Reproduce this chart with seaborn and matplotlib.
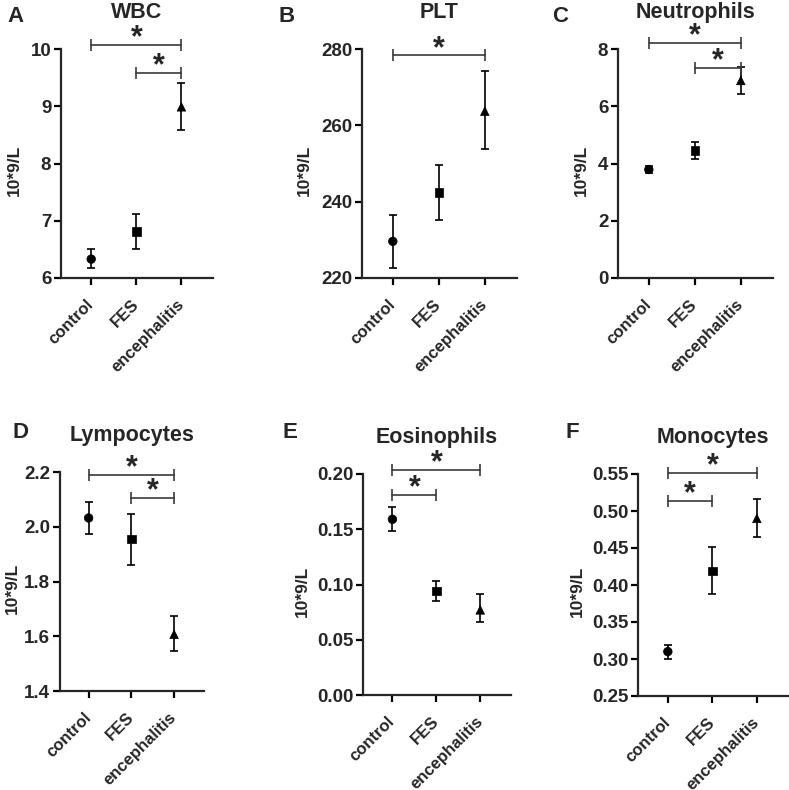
import numpy as np
import pandas as pd
import matplotlib
matplotlib.use("Agg")
import matplotlib.pyplot as plt
import seaborn as sns

groups = ["control", "FES", "encephalitis"]

# mean values, plus the ends of each error bar
wbc_mean = [6.33, 6.81, 8.99]
wbc_low = [6.17, 6.51, 8.58]
wbc_high = [6.50, 7.12, 9.41]

plt_mean = [229.6, 242.4, 263.7]
plt_low = [222.6, 235.2, 253.7]
plt_high = [236.4, 249.6, 274.3]

neu_mean = [3.79, 4.45, 6.90]
neu_low = [3.67, 4.16, 6.44]
neu_high = [3.91, 4.74, 7.36]

lym_mean = [2.032, 1.955, 1.607]
lym_low = [1.973, 1.862, 1.545]
lym_high = [2.090, 2.047, 1.673]

eos_mean = [0.159, 0.094, 0.077]
eos_low = [0.148, 0.085, 0.066]
eos_high = [0.170, 0.103, 0.091]

mon_mean = [0.310, 0.419, 0.490]
mon_low = [0.300, 0.388, 0.465]
mon_high = [0.319, 0.451, 0.516]

# significance brackets: (from group, to group, height)
wbc_sig = [("control", "encephalitis", 10.07), ("FES", "encephalitis", 9.58)]
plt_sig = [("control", "encephalitis", 278.3)]
neu_sig = [("control", "encephalitis", 8.21), ("FES", "encephalitis", 7.34)]
lym_sig = [("control", "encephalitis", 2.188), ("FES", "encephalitis", 2.105)]
eos_sig = [("control", "encephalitis", 0.2036), ("control", "FES", 0.181)]
mon_sig = [("control", "encephalitis", 0.5514), ("control", "FES", 0.5135)]

titles = ["WBC", "PLT", "Neutrophils", "Lympocytes", "Eosinophils", "Monocytes"]
letters = ["A", "B", "C", "D", "E", "F"]
yticks = [
    [6, 7, 8, 9, 10],
    [220, 240, 260, 280],
    [0, 2, 4, 6, 8],
    [1.4, 1.6, 1.8, 2.0, 2.2],
    [0.00, 0.05, 0.10, 0.15, 0.20],
    [0.25, 0.30, 0.35, 0.40, 0.45, 0.50, 0.55],
]
yfmt = ["{:.0f}", "{:.0f}", "{:.0f}", "{:.1f}", "{:.2f}", "{:.2f}"]

panels = [
    (wbc_mean, wbc_low, wbc_high, wbc_sig),
    (plt_mean, plt_low, plt_high, plt_sig),
    (neu_mean, neu_low, neu_high, neu_sig),
    (lym_mean, lym_low, lym_high, lym_sig),
    (eos_mean, eos_low, eos_high, eos_sig),
    (mon_mean, mon_low, mon_high, mon_sig),
]

# layout in pixels: left, right, top, bottom of each axes
W, H = 789, 790
boxes = [
    (61, 213, 49, 278),
    (362, 517, 49, 278),
    (618, 773, 49, 278),
    (60, 204, 472, 691),
    (363, 511, 474, 695),
    (638, 788, 474, 696),
]
ylabel_x = [15, 305, 582, 13, 303, 578]
letter_pos = [(16, 16), (287, 16), (560, 17), (20, 432), (290, 432), (572, 432)]

sns.set_style("ticks")
plt.rcParams["font.family"] = ["Liberation Sans", "DejaVu Sans"]
plt.rcParams["font.weight"] = "bold"

fig = plt.figure(figsize=(7.89, 7.90), dpi=100)
markers = {"control": "o", "FES": "s", "encephalitis": "^"}

for i, (mean, low, high, sig) in enumerate(panels):
    l, r, t, b = boxes[i]
    ax = fig.add_axes([l / W, 1 - b / H, (r - l) / W, (b - t) / H])
    df = pd.DataFrame({"group": groups, "value": mean})
    yerr = np.array([np.array(mean) - np.array(low), np.array(high) - np.array(mean)])
    ax.errorbar(groups, mean, yerr=yerr, fmt="none", ecolor="black",
                elinewidth=1.2, capsize=2.8, capthick=1.2, zorder=2)
    sns.scatterplot(data=df, x="group", y="value", style="group", markers=markers,
                    color="black", s=38, edgecolor="black", linewidth=0.5,
                    legend=False, ax=ax, zorder=3)
    for g0, g1, h in sig:
        x0, x1 = groups.index(g0), groups.index(g1)
        ax.plot([x0, x1], [h, h], color="#3a3a3a", lw=1.2, clip_on=False)
        ax.plot([x0, x1], [h, h], ls="none", marker="|", ms=8, mew=1.2,
                color="#3a3a3a", clip_on=False)
        ax.annotate("*", xy=((x0 + x1) / 2, h), xytext=(0, -6),
                    textcoords="offset points", ha="center", va="bottom",
                    fontsize=22, fontweight="bold", annotation_clip=False)

    ax.set_xlim(-0.67, 2.7)
    ax.set_ylim(yticks[i][0], yticks[i][-1])
    ax.set_yticks(yticks[i])
    ax.set_yticklabels([yfmt[i].format(v) for v in yticks[i]], fontsize=13.5,
                       fontweight="bold")
    ax.set_xticks(range(3))
    ax.set_xticklabels(groups, rotation=45, ha="right", va="center",
                       rotation_mode="anchor", fontsize=12, fontweight="bold")
    ax.set_xlabel("")
    ax.set_ylabel("10*9/L", fontsize=12.5, fontweight="bold")
    ax.yaxis.set_label_coords((ylabel_x[i] + 7 - l) / (r - l), 0.47)
    ax.set_title(titles[i], fontsize=15.5, fontweight="bold", pad=22)
    sns.despine(ax=ax)
    for s in ["left", "bottom"]:
        ax.spines[s].set_linewidth(1.6)
    ax.tick_params(axis="both", width=1.6, length=5, color="black")
    ax.tick_params(axis="y", pad=2)
    ax.tick_params(axis="x", pad=12)

    lx, ly = letter_pos[i]
    fig.text(lx / W, 1 - ly / H, letters[i], fontsize=16, fontweight="bold",
             ha="center", va="center")

fig.savefig("out.png", dpi=100)
